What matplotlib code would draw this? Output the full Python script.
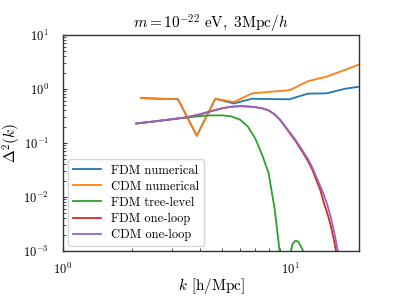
import matplotlib
matplotlib.use("Agg")
import matplotlib.pyplot as plt
import numpy as np

plt.rcParams['font.family'] = 'serif'
plt.rcParams['font.serif'] = ['cmr10', 'DejaVu Serif']
plt.rcParams['mathtext.fontset'] = 'cm'
plt.rcParams['axes.formatter.use_mathtext'] = True
plt.rcParams['axes.unicode_minus'] = False

# simulation bins
k_num = [2.2, 2.66, 3.2, 3.87, 4.67, 5.63, 6.78, 8.2, 9.9, 11.9, 14.4, 17.3, 20.9]
fdm_num = [0.68, 0.66, 0.645, 0.136, 0.66, 0.54, 0.66, 0.65, 0.645, 0.82, 0.83, 1.01, 1.13]
cdm_num = [0.68, 0.66, 0.645, 0.136, 0.66, 0.575, 0.83, 0.89, 0.95, 1.39, 1.70, 2.25, 3.05]

# perturbation theory
k_tree = [2.1, 2.5, 3.0, 3.5, 4.0, 4.5, 5.0, 5.5, 6.0, 6.5, 7.0, 7.5, 8.0, 8.5,
          9.0, 9.3, 9.5, 9.7, 10.0, 10.2, 10.5, 10.8, 11.0, 11.3, 11.6, 12.0]
fdm_tree = [0.23, 0.25, 0.275, 0.295, 0.315, 0.325, 0.325, 0.31, 0.27, 0.2, 0.12,
            0.06, 0.028, 0.0062, 0.0008, 0.00015, 1e-6, 0.0001, 0.00095, 0.00135,
            0.00155, 0.0015, 0.0013, 0.00105, 0.0007, 0.0003]

k_loop = [2.1, 2.5, 3.0, 3.5, 4.0, 4.5, 5.0, 5.5, 6.0, 6.5, 7.0, 7.5, 8.0, 8.5,
          9.0, 9.5, 10.0, 10.5, 11.0, 11.5, 12.0, 12.5, 13.0, 13.5, 14.0, 14.5,
          15.0, 15.5, 16.0, 16.5]
fdm_loop = [0.23, 0.25, 0.275, 0.30, 0.34, 0.39, 0.44, 0.47, 0.48, 0.475, 0.46,
            0.44, 0.40, 0.34, 0.265, 0.195, 0.145, 0.11, 0.08, 0.06, 0.044, 0.031,
            0.020, 0.0135, 0.0078, 0.0050, 0.0030, 0.0016, 0.0008, 0.0004]
cdm_loop = [0.23, 0.25, 0.275, 0.30, 0.34, 0.39, 0.44, 0.47, 0.48, 0.475, 0.46,
            0.44, 0.40, 0.34, 0.27, 0.20, 0.15, 0.115, 0.085, 0.064, 0.048, 0.034,
            0.023, 0.016, 0.011, 0.0072, 0.0043, 0.0024, 0.00118, 0.0006]

fig = plt.figure(figsize=(3.99, 2.99), dpi=100)
ax = fig.add_axes([0.158, 0.1605, 0.742, 0.7225])

ax.plot(k_num, fdm_num, color='tab:blue', lw=1.3, label='FDM numerical')
ax.plot(k_num, cdm_num, color='tab:orange', lw=1.3, label='CDM numerical')
ax.plot(k_tree, fdm_tree, color='tab:green', lw=1.3, label='FDM tree-level')
ax.plot(k_loop, fdm_loop, color='tab:red', lw=1.3, label='FDM one-loop')
ax.plot(k_loop, cdm_loop, color='tab:purple', lw=1.3, label='CDM one-loop')

ax.set_xscale('log')
ax.set_yscale('log')
ax.set_xlim(1, 20)
ax.set_ylim(1e-3, 1e1)

ax.set_title(r'$m=10^{-22}\ \mathrm{eV},\ 3\mathrm{Mpc}/h$', fontsize=11, pad=4)
ax.set_xlabel(r'$k$ [h/Mpc]', fontsize=11)
ax.set_ylabel(r'$\Delta^2(k)$', fontsize=11)
ax.xaxis.set_label_coords(0.5, -0.115)
ax.yaxis.set_label_coords(-0.135, 0.5)

ax.tick_params(which='both', direction='in', labelsize=9, color='0.2')
ax.tick_params(which='major', length=3)
ax.tick_params(which='minor', length=2)
ax.tick_params(axis='x', pad=8)
ax.tick_params(axis='y', pad=10)
for s in ax.spines.values():
    s.set_color('0.2')
    s.set_linewidth(1.0)

leg = ax.legend(loc='lower left', fontsize=9, frameon=True, edgecolor='0.8',
                handlelength=2.2, labelspacing=0.32, borderaxespad=0.4)

fig.savefig('out.png', dpi=100)
